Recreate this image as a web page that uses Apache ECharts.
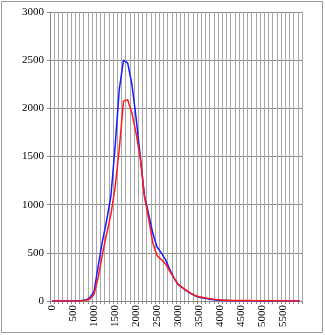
<!DOCTYPE html>
<html>
<head>
<meta charset="utf-8">
<script src="https://cdn.jsdelivr.net/npm/echarts@6/dist/echarts.min.js"></script>
<style>
  html, body { margin: 0; padding: 0; background: #fff; }
  #chart { width: 325px; height: 335px; }
</style>
</head>
<body>
<div id="chart"></div>
<script>
// Categories: 0 .. 5900 in steps of 100
const categories = [];
for (let c = 0; c <= 5900; c += 100) categories.push(String(c));

// Blue series values per category
const blueValues = [
  0, 0, 0, 0, 0, 1, 2, 4, 10, 35,
  100, 370, 625, 840, 1090, 1600, 2200, 2500, 2470, 2250,
  1900, 1500, 1090, 900, 700, 560, 500, 430, 330, 240,
  170, 140, 105, 78, 55, 38, 30, 22, 15, 10,
  7, 5, 4, 3, 3, 2, 2, 2, 2, 1,
  1, 1, 1, 1, 1, 1, 0, 0, 0, 0
];

// Red series values per category
const redValues = [
  0, 0, 0, 0, 0, 1, 1, 2, 5, 20,
  70, 250, 490, 700, 900, 1180, 1580, 2075, 2090, 1950,
  1740, 1480, 1080, 850, 600, 470, 430, 385, 310, 240,
  175, 140, 110, 82, 58, 45, 36, 28, 22, 16,
  12, 9, 7, 6, 5, 5, 4, 4, 3, 3,
  3, 2, 2, 2, 2, 1, 1, 1, 1, 1
];

// Value axis range
const yMin = 0;
const yMax = 3000;
const yStep = 500;

const serif = '"Liberation Serif", "DejaVu Serif", serif';

const chart = echarts.init(document.getElementById('chart'), null, { renderer: 'canvas' });
chart.setOption({
  animation: false,
  backgroundColor: '#fff',
  graphic: [{
    type: 'rect',
    shape: { x: 1.5, y: 1.5, width: 321, height: 331 },
    style: { fill: 'none', stroke: '#9a9a9a', lineWidth: 1 },
    silent: true
  }],
  grid: { left: 50, right: 23, top: 12, bottom: 34, containLabel: false },
  xAxis: {
    type: 'category',
    data: categories,
    boundaryGap: true,
    axisLine: { show: true, lineStyle: { color: '#888', width: 1 } },
    axisTick: { show: true, interval: 0, length: 3, lineStyle: { color: '#888' } },
    axisLabel: {
      interval: 4,
      rotate: 90,
      margin: 4,
      fontFamily: serif,
      fontSize: 11,
      color: '#000'
    },
    splitLine: { show: true, interval: 0, lineStyle: { color: '#a8a8a8', width: 1 } }
  },
  yAxis: {
    type: 'value',
    min: yMin,
    max: yMax,
    interval: yStep,
    axisLine: { show: true, lineStyle: { color: '#888', width: 1 } },
    axisTick: { show: true, length: 3, lineStyle: { color: '#888' } },
    axisLabel: {
      margin: 6,
      fontFamily: serif,
      fontSize: 11,
      color: '#000',
      formatter: function (v) { return String(v); }
    },
    splitLine: { show: true, lineStyle: { color: '#8c8c8c', width: 1 } }
  },
  series: [
    {
      type: 'line',
      data: blueValues,
      symbol: 'none',
      smooth: false,
      lineStyle: { color: '#1a1aff', width: 1.5 },
      z: 3
    },
    {
      type: 'line',
      data: redValues,
      symbol: 'none',
      smooth: false,
      lineStyle: { color: '#ff1a1a', width: 1.5 },
      z: 4
    }
  ]
});
</script>
</body>
</html>
